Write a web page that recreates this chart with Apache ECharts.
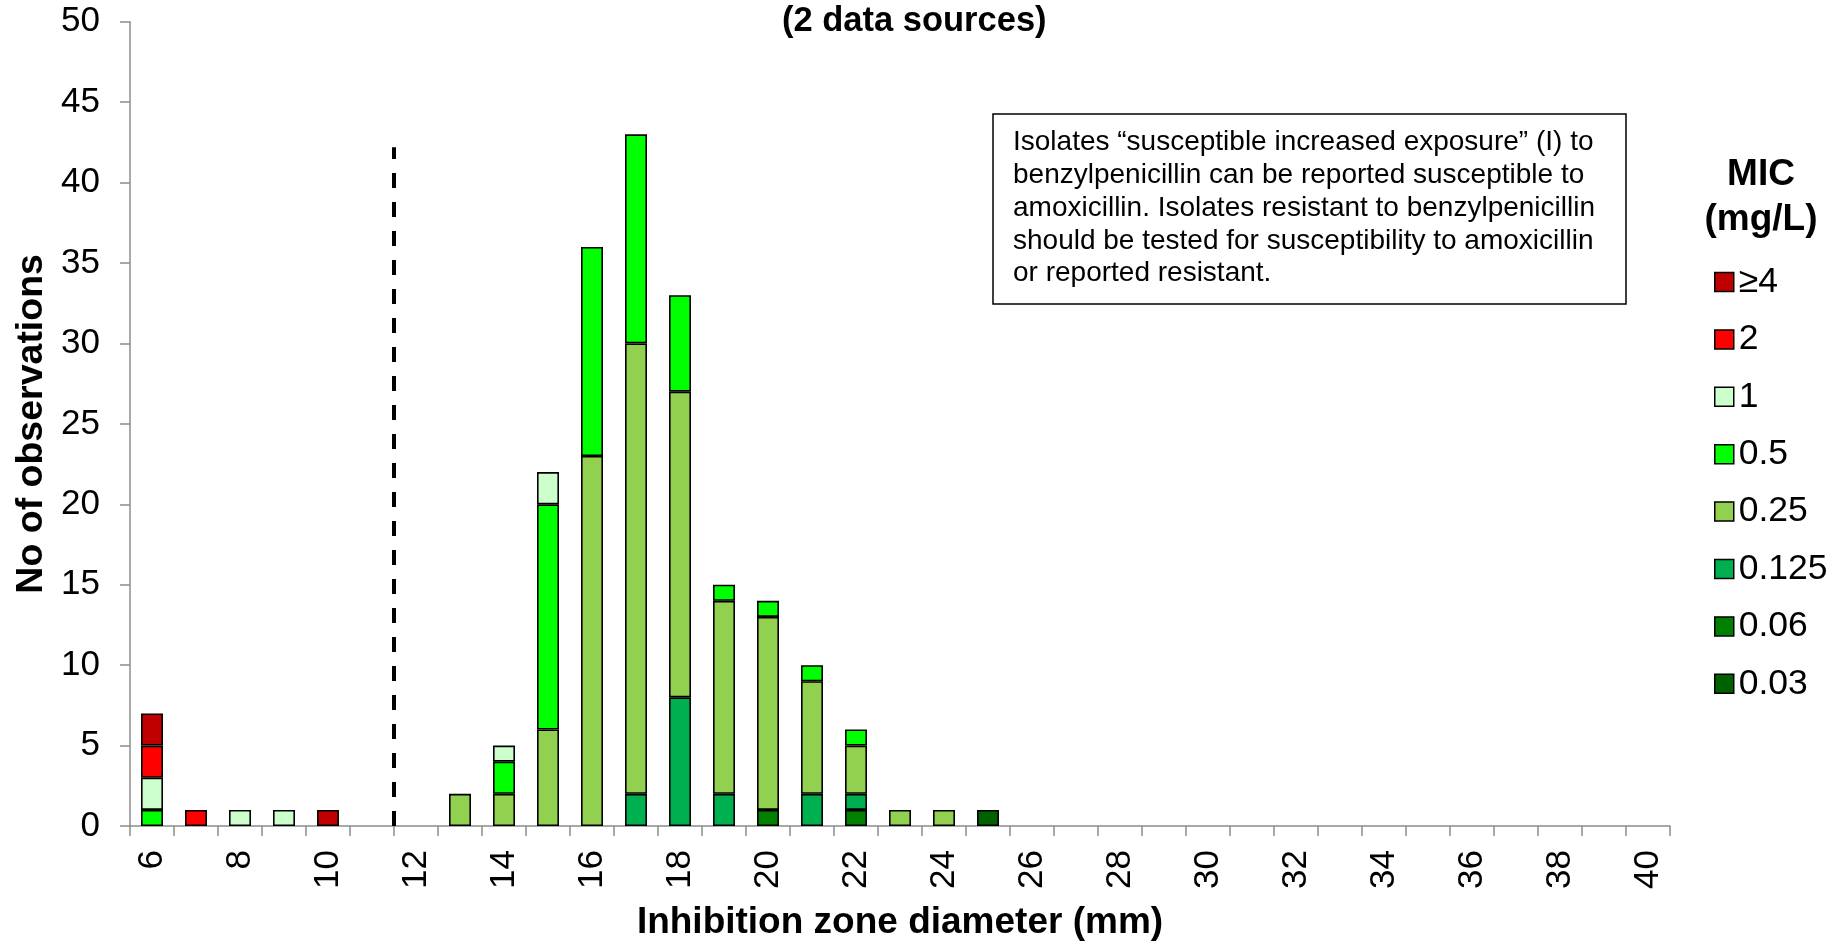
<!DOCTYPE html>
<html>
<head>
<meta charset="utf-8">
<script src="https://cdn.jsdelivr.net/npm/echarts@6/dist/echarts.min.js"></script>
<style>
html,body{margin:0;padding:0;background:#fff;}
#chart{width:1847px;height:941px;}
</style>
</head>
<body>
<div id="chart"></div>
<script>
// Inhibition zone diameters (mm), categories 6..40
const categories = ['6','7','8','9','10','11','12','13','14','15','16','17','18','19','20','21','22','23','24','25','26','27','28','29','30','31','32','33','34','35','36','37','38','39','40'];
// counts per MIC level (index aligned with categories)
const micGe4   = [2,0,0,0,1,0,0,0,0,0, 0, 0, 0, 0, 0,0,0,0,0,0];
const mic2     = [2,1,0,0,0,0,0,0,0,0, 0, 0, 0, 0, 0,0,0,0,0,0];
const mic1     = [2,0,1,1,0,0,0,0,1,2, 0, 0, 0, 0, 0,0,0,0,0,0];
const mic05    = [1,0,0,0,0,0,0,0,2,14,13,13,6, 1, 1,1,1,0,0,0];
const mic025   = [0,0,0,0,0,0,0,2,2,6, 23,28,19,12,12,7,3,1,1,0];
const mic0125  = [0,0,0,0,0,0,0,0,0,0, 0, 2, 8, 2, 0,2,1,0,0,0];
const mic006   = [0,0,0,0,0,0,0,0,0,0, 0, 0, 0, 0, 1,0,1,0,0,0];
const mic003   = [0,0,0,0,0,0,0,0,0,0, 0, 0, 0, 0, 0,0,0,0,0,1];
const seriesNames  = ['0.03','0.06','0.125','0.25','0.5','1','2','≥4'];
const seriesValues = [mic003, mic006, mic0125, mic025, mic05, mic1, mic2, micGe4];
const seriesColors = ['#006100','#008000','#00B050','#92D050','#00FF00','#CCFFCC','#FF0000','#C00000'];
const legendOrder  = ['≥4','2','1','0.5','0.25','0.125','0.06','0.03'];
// breakpoint line (between 11 and 12 mm)
const breakpointX = 11.5;
const breakpointTop = 42.2;
const yTicks = {min: 0, max: 50, interval: 5};

const FONT = 'Liberation Sans, Arial, sans-serif';
const chart = echarts.init(document.getElementById('chart'), null, {renderer: 'canvas'});

const barSeries = seriesNames.map((name, i) => ({
  name: name,
  type: 'bar',
  stack: 'mic',
  barWidth: '50%',
  xAxisIndex: 0,
  yAxisIndex: 0,
  itemStyle: {color: seriesColors[i], borderColor: '#000', borderWidth: 1.6},
  emphasis: {disabled: true},
  data: categories.map((c, k) => {
    const v = seriesValues[i][k];
    return (v === undefined || v === 0) ? '-' : v;
  })
}));

const option = {
  animation: false,
  backgroundColor: '#fff',
  title: {
    text: '(2 data sources)',
    left: 782, top: 4, padding: 0,
    textStyle: {fontFamily: FONT, fontSize: 34.5, fontWeight: 'bold', color: '#000'}
  },
  grid: {left: 130, right: 177, top: 21.7, bottom: 115, containLabel: false, outerBoundsMode: 'none'},
  legend: {
    orient: 'vertical',
    left: 1714, top: 264,
    padding: 0,
    data: legendOrder,
    selectedMode: false,
    icon: 'rect',
    itemWidth: 19, itemHeight: 19,
    itemGap: 21.4,
    itemStyle: {borderColor: '#000', borderWidth: 1.5},
    textStyle: {fontFamily: FONT, fontSize: 35.5, color: '#000', lineHeight: 36}
  },
  xAxis: [{
    type: 'category',
    data: categories,
    boundaryGap: true,
    name: 'Inhibition zone diameter (mm)',
    nameLocation: 'middle',
    nameGap: 78,
    nameTextStyle: {fontFamily: FONT, fontSize: 37, fontWeight: 'bold', color: '#000', verticalAlign: 'top'},
    axisLine: {lineStyle: {color: '#8c8c8c', width: 1.5}},
    axisTick: {show: true, interval: 0, length: 10, lineStyle: {color: '#8c8c8c', width: 1.5}},
    axisLabel: {
      interval: (idx, val) => Number(val) % 2 === 0,
      rotate: 90, margin: 24,
      fontFamily: FONT, fontSize: 35, color: '#000'
    },
    splitLine: {show: false}
  }, {
    type: 'value',
    min: 5.5, max: 40.5,
    show: false
  }],
  yAxis: {
    type: 'value',
    min: yTicks.min, max: yTicks.max, interval: yTicks.interval,
    name: 'No of observations',
    nameLocation: 'middle',
    nameGap: 79,
    nameTextStyle: {fontFamily: FONT, fontSize: 37.5, fontWeight: 'bold', color: '#000'},
    axisLine: {show: true, lineStyle: {color: '#8c8c8c', width: 1.5}},
    axisTick: {show: true, length: 10, lineStyle: {color: '#8c8c8c', width: 1.5}},
    axisLabel: {margin: 30, fontFamily: FONT, fontSize: 35, color: '#000'},
    splitLine: {show: false}
  },
  series: barSeries.concat([{
    name: 'breakpoint',
    type: 'line',
    xAxisIndex: 1,
    yAxisIndex: 0,
    symbol: 'none',
    silent: true,
    z: 5,
    lineStyle: {color: '#000', width: 4, type: [15, 14]},
    data: [[breakpointX, 0], [breakpointX, breakpointTop]]
  }]),
  graphic: [
    {
      type: 'rect',
      shape: {x: 993, y: 114, width: 633, height: 190},
      style: {fill: '#fff', stroke: '#000', lineWidth: 1.5},
      z: 10
    },
    {
      type: 'text',
      x: 1013, y: 126,
      style: {
        text: 'Isolates “susceptible increased exposure” (I) to\nbenzylpenicillin can be reported susceptible to\namoxicillin. Isolates resistant to benzylpenicillin\nshould be tested for susceptibility to amoxicillin\nor reported resistant.',
        fontFamily: FONT, fontSize: 28, lineHeight: 32.8,
        fill: '#000', textAlign: 'left', textVerticalAlign: 'top'
      },
      z: 11
    },
    {
      type: 'text',
      x: 1761, y: 152,
      style: {
        text: 'MIC\n(mg/L)',
        fontFamily: FONT, fontSize: 37, fontWeight: 'bold', lineHeight: 45,
        fill: '#000', textAlign: 'center', textVerticalAlign: 'top'
      },
      z: 11
    }
  ]
};
chart.setOption(option);
</script>
</body>
</html>
